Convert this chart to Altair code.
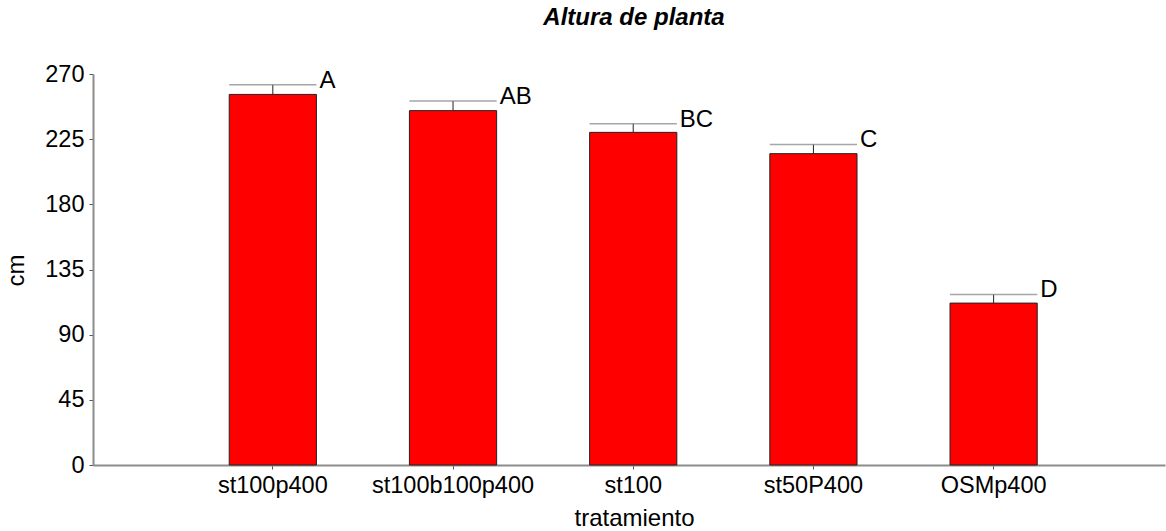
import altair as alt
import pandas as pd

tratamientos = ["st100p400", "st100b100p400", "st100", "st50P400", "OSMp400"]
altura = [255.9, 244.7, 229.7, 215.0, 111.8]
error = [6.7, 6.7, 6.0, 6.4, 6.0]
letras = ["A", "AB", "BC", "C", "D"]
y_ticks = [0, 45, 90, 135, 180, 225, 270]

df = pd.DataFrame({
    "tratamiento": tratamientos,
    "cm": altura,
    "top": [a + e for a, e in zip(altura, error)],
    "letra": letras,
})

FONT = "Liberation Sans"
W, H = 1072, 391

xscale = alt.Scale(paddingInner=0.516, paddingOuter=0.7325, align=0.516)
xsort = tratamientos

x_axis = alt.Axis(
    title="tratamiento", labelAngle=0, labelFontSize=23.5, labelFont=FONT,
    labelColor="black", labelBaseline="alphabetic", labelPadding=23,
    tickSize=4, tickColor="#555555", tickWidth=1,
    domainColor="#8c8c8c", domainWidth=2,
    titleFont=FONT, titleFontSize=24, titleFontWeight="normal", titleColor="black",
    titleX=541, titleY=60, titleBaseline="alphabetic", titleAlign="center",
    grid=False,
)
y_axis = alt.Axis(
    title="cm", values=y_ticks, labelFontSize=23.5, labelFont=FONT,
    labelColor="black", labelPadding=5, tickSize=4, tickColor="#555555", tickWidth=1,
    domainColor="#8c8c8c", domainWidth=2,
    titleFont=FONT, titleFontSize=24, titleFontWeight="normal", titleColor="black",
    titleX=-70, titleY=196, titleAngle=-90, titleBaseline="alphabetic", titleAlign="center",
    grid=False,
)
yscale = alt.Scale(domain=[0, 270], nice=False, zero=True)

base = alt.Chart(df)

bars = base.mark_bar(color="#ff0000", stroke="#222222", strokeWidth=1).encode(
    x=alt.X("tratamiento:N", sort=xsort, scale=xscale, axis=x_axis),
    y=alt.Y("cm:Q", scale=yscale, axis=y_axis),
)

vline = base.mark_rule(color="#222222", strokeWidth=1).encode(
    x=alt.X("tratamiento:N", sort=xsort),
    y=alt.Y("cm:Q"),
    y2="top:Q",
)

cap = base.mark_tick(color="#808080", thickness=1.5, size=87.3, orient="horizontal").encode(
    x=alt.X("tratamiento:N", sort=xsort),
    y=alt.Y("top:Q"),
)

labels = base.mark_text(
    align="left", baseline="alphabetic", dx=3, dy=3, fontSize=24, font=FONT, color="black"
).encode(
    x=alt.X("tratamiento:N", sort=xsort, bandPosition=1),
    y=alt.Y("top:Q"),
    text="letra:N",
)

chart = alt.layer(bars, vline, cap, labels).properties(
    width=W, height=H,
    background="white",
    title=alt.TitleParams(
        "Altura de planta", font=FONT, fontSize=24, fontWeight="bold", fontStyle="italic",
        color="black", anchor="middle", frame="group", baseline="alphabetic",
        offset=13, dx=5,
    ),
    autosize=alt.AutoSizeParams(type="none"),
    padding={"left": 93, "top": 74, "right": 1, "bottom": 66},
).configure_view(stroke=None)

chart.save("out.html", embed_options={"renderer": "svg", "actions": False})
